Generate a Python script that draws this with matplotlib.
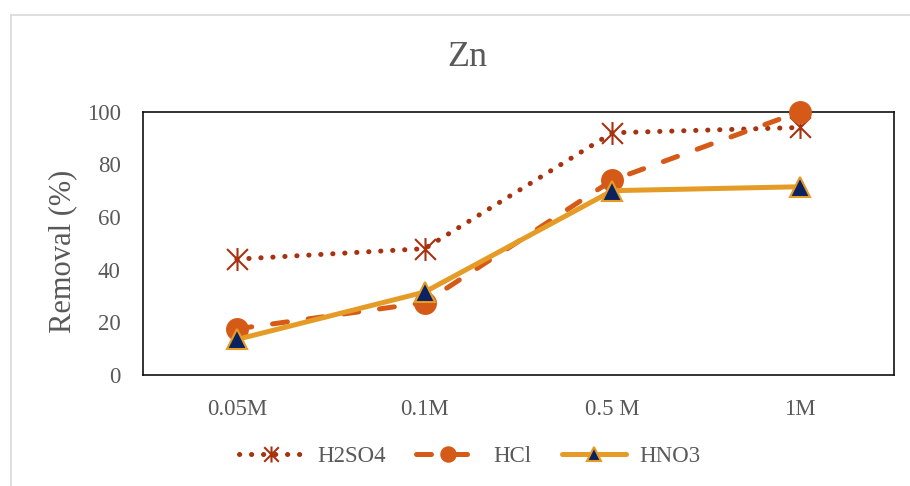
import matplotlib
matplotlib.use("Agg")
import matplotlib.pyplot as plt
from matplotlib.path import Path
from matplotlib.lines import Line2D

# Removal efficiency of Zn for three acids at four concentrations
categories = ["0.05M", "0.1M", "0.5 M", "1M"]
h2so4 = [44, 48, 92, 94]
hcl = [17.5, 27.5, 74, 100]
hno3 = [13.5, 31.5, 70, 71.5]
y_ticks = [0, 20, 40, 60, 80, 100]

TEXT = "#595959"
C_H2SO4 = "#A8320F"
C_HCL = "#D65A17"
C_HNO3 = "#E59C26"
C_NAVY = "#0A2260"

plt.rcParams["font.family"] = ["Liberation Serif", "DejaVu Serif"]

fig = plt.figure(figsize=(9.10, 4.86), dpi=100)
ax = fig.add_axes([143 / 910, 1 - 375 / 486, (894 - 143) / 910, (375 - 111.7) / 486])

# asterisk marker: an X crossed by a vertical stroke
star = Path(
    [(-1, -1), (1, 1), (-1, 1), (1, -1), (0, -1.1), (0, 1.1)],
    [Path.MOVETO, Path.LINETO, Path.MOVETO, Path.LINETO, Path.MOVETO, Path.LINETO],
)

x = list(range(len(categories)))

ax.plot(x, h2so4, color=C_H2SO4, lw=3.6, linestyle=(0, (0.05, 2.35)),
        dash_capstyle="round", marker=star, markersize=16.5,
        markerfacecolor="none", markeredgecolor=C_H2SO4, markeredgewidth=1.5,
        label="H2SO4", clip_on=False, zorder=3)
ax.plot(x, hcl, color=C_HCL, lw=3.6, linestyle=(0, (3.0, 4.2)),
        dash_capstyle="round", marker="o", markersize=15.5,
        markerfacecolor=C_HCL, markeredgecolor=C_HCL,
        label="HCl", clip_on=False, zorder=4)
ax.plot(x, hno3, color=C_HNO3, lw=3.6, solid_capstyle="round",
        marker="^", markersize=14, markerfacecolor=C_NAVY,
        markeredgecolor=C_HNO3, markeredgewidth=1.5,
        label="HNO3", clip_on=False, zorder=5)

ax.set_xlim(-0.5, len(categories) - 0.5)
ax.set_ylim(0, 100)
ax.set_xticks(x)
ax.set_xticklabels(categories)
ax.set_yticks(y_ticks)
ax.tick_params(axis="both", length=0, labelsize=16.5, labelcolor=TEXT)
ax.tick_params(axis="x", pad=17)
ax.tick_params(axis="y", pad=16)
for sp in ax.spines.values():
    sp.set_color("#111111")
    sp.set_linewidth(1.2)

ax.set_ylabel("Removal (%)", fontsize=22, color=TEXT)
ax.yaxis.set_label_coords(-0.087, 0.47)

fig.text(467 / 910, 1 - 58 / 486, "Zn", fontsize=26, color=TEXT,
         ha="center", va="center")

leg = fig.legend(loc="center", bbox_to_anchor=(470 / 910, 1 - 456 / 486),
                 ncol=3, frameon=False, fontsize=16.5, handlelength=2.8,
                 handletextpad=0.6, columnspacing=1.3, markerscale=0.7)
for t in leg.get_texts():
    t.set_color(TEXT)

# outer chart frame (left and top edges)
fig.add_artist(Line2D([10.5 / 910, 10.5 / 910], [0, 1 - 15 / 486],
                      transform=fig.transFigure, color="#D9D9D9", lw=1.2))
fig.add_artist(Line2D([10.5 / 910, 1], [1 - 15 / 486, 1 - 15 / 486],
                      transform=fig.transFigure, color="#D9D9D9", lw=1.2))

fig.savefig("out.png", dpi=100, facecolor="white")
